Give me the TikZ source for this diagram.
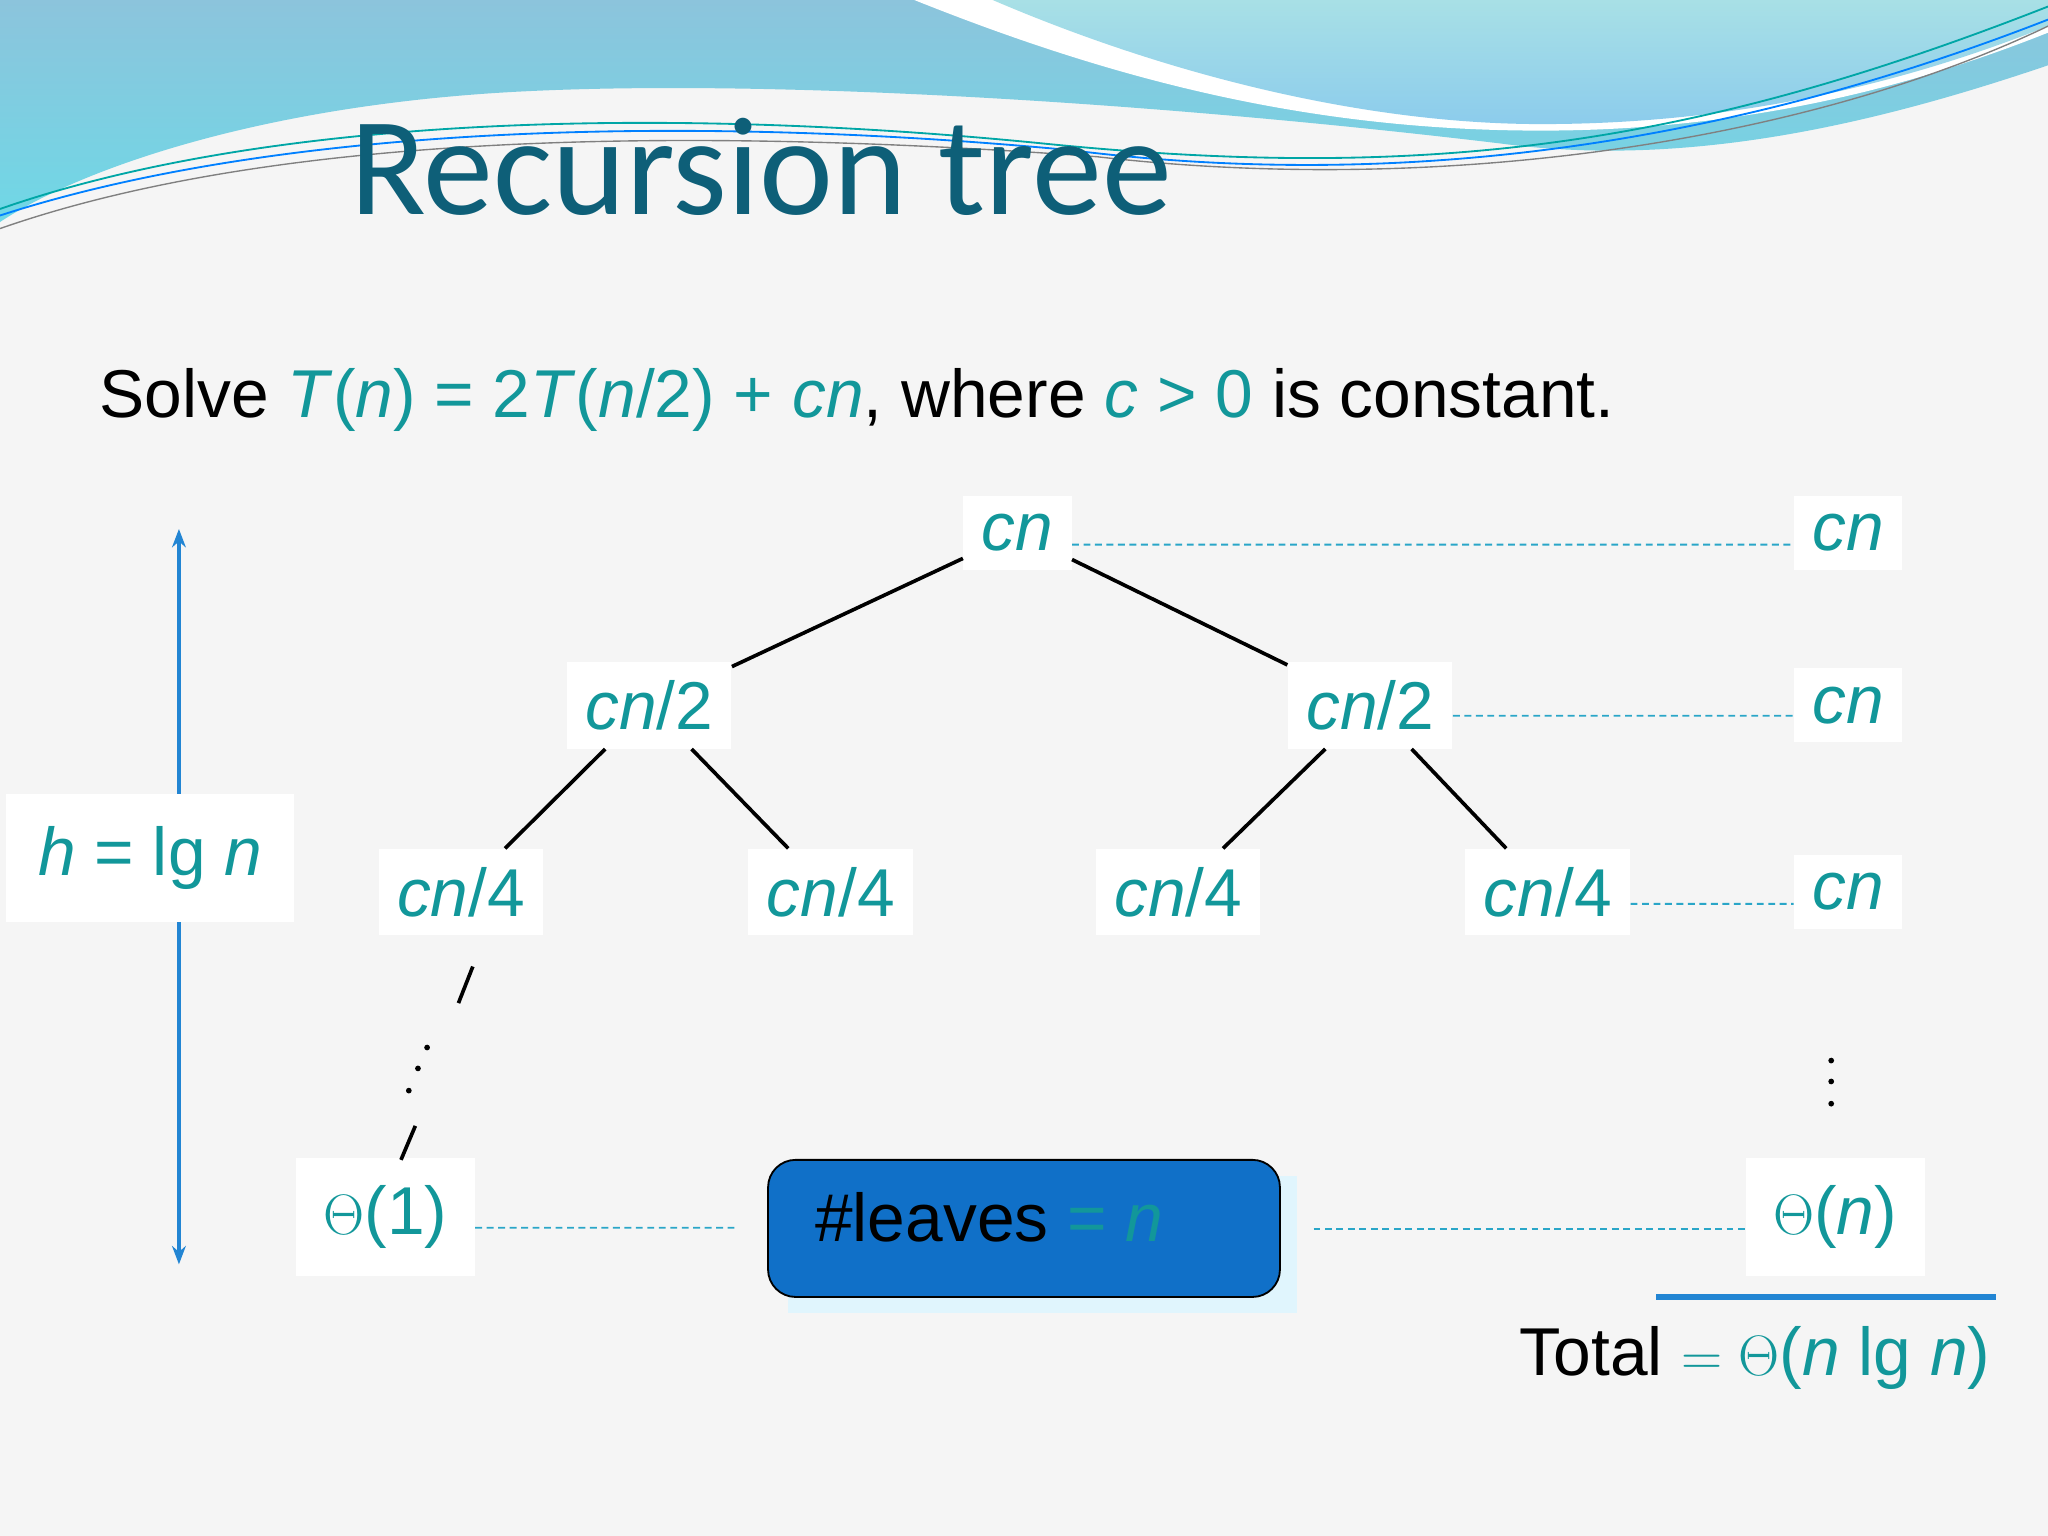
\documentclass[tikz,border=0pt]{standalone}
\usepackage{fontspec}
\setmainfont{Liberation Sans}
\newfontfamily\titlefont{Carlito}
\usetikzlibrary{arrows.meta}
\definecolor{tl}{HTML}{12979A}
\definecolor{ttl}{HTML}{0E5F78}
\definecolor{dsh}{HTML}{2AA6C8}
\definecolor{bx}{HTML}{1070C8}
\definecolor{bnA}{HTML}{8CC4DC}
\definecolor{bnB}{HTML}{6FD8E6}
\definecolor{bnC}{HTML}{A8E0E6}
\definecolor{bnD}{HTML}{8CCCEC}
\begin{document}
\begin{tikzpicture}[x=0.02cm,y=-0.02cm,
  lab/.style={fill=white,inner sep=8pt,text=tl,font=\fontsize{29.5}{34}\selectfont\itshape},
  edge/.style={black,line width=1.6pt},
  dl/.style={dsh,line width=0.8pt,dash pattern=on 3pt off 2pt}]
\useasboundingbox (0,0) rectangle (1568,1176);
\fill[black!4] (0,0) rectangle (1568,1176);
% banner
\shade[top color=bnA,bottom color=bnB] (0,0) -- (1568,0) -- (1568,50) .. controls (1450,90) and (1300,130) .. (1150,110) .. controls (900,80) and (600,60) .. (400,70) .. controls (200,80) and (60,130) .. (0,170) -- cycle;
\fill[white] (700,0) .. controls (850,60) and (1000,100) .. (1180,100) .. controls (1350,100) and (1480,60) .. (1568,25) -- (1568,0) -- cycle;
\shade[top color=bnC,bottom color=bnD] (760,0) .. controls (900,60) and (1050,95) .. (1180,95) .. controls (1350,95) and (1480,55) .. (1568,20) -- (1568,0) -- cycle;
\draw[teal!70!cyan,line width=0.8pt] (0,160) .. controls (200,90) and (500,80) .. (800,110) .. controls (1100,140) and (1300,110) .. (1568,5);
\draw[blue!50!cyan,line width=0.8pt] (0,165) .. controls (200,100) and (500,85) .. (820,115) .. controls (1100,150) and (1350,100) .. (1568,15);
\draw[gray,line width=0.6pt] (0,175) .. controls (200,105) and (500,95) .. (840,120) .. controls (1100,150) and (1380,110) .. (1568,20);
\node[anchor=west,text=ttl,font=\titlefont\fontsize{61}{66}\selectfont] (title) at (262,128) {Recursion tree};
\node[anchor=west,font=\fontsize{29.5}{34}\selectfont] (solve) at (70,306) {Solve \textcolor{tl}{\textit{T}(\textit{n}) = 2\textit{T}(\textit{n}/2) + \textit{cn}}, where \textcolor{tl}{\textit{c} > 0} is constant.};
% tree
\node[lab] (r) at (779,408) {cn};
\node[lab] (a) at (497,540) {cn\upshape/2};
\node[lab] (b) at (1049,540) {cn\upshape/2};
\node[lab] (a1) at (353,683) {cn\upshape/4};
\node[lab] (a2) at (636,683) {cn\upshape/4};
\node[lab] (b1) at (902,683) {cn\upshape/4};
\node[lab] (b2) at (1185,683) {cn\upshape/4};
\node[lab,inner sep=12pt] (leaf) at (295,932) {\upshape$\Theta$(1)};
\node[lab] (s1) at (1415,408) {cn};
\node[lab] (s2) at (1415,540) {cn};
\node[lab] (s3) at (1415,683) {cn};
\node[lab,inner sep=12pt] (s4) at (1405,932) {\upshape$\Theta$(\textit{n})};
\node[lab,inner sep=14pt] (h) at (115,657) {h \upshape= lg \itshape n};
\draw[edge] (r) -- (a); \draw[edge] (r) -- (b);
\draw[edge] (a) -- (a1); \draw[edge] (a) -- (a2);
\draw[edge] (b) -- (b1); \draw[edge] (b) -- (b2);
\coordinate (d1) at (362,740); \coordinate (d2) at (351,768);
\coordinate (d3) at (318,862); \coordinate (d4) at (307,888);
\draw[edge] (d1) -- (d2); \draw[edge] (d3) -- (d4);
\foreach \p in {(327,802),(320,818),(313,835)} \fill \p circle (2.2);
\foreach \p in {(1402,812),(1402,828),(1402,845)} \fill \p circle (2.2);
% height arrow
\coordinate (ht) at (137,405); \coordinate (hb) at (137,968);
\draw[dsh!80!blue,line width=1.5pt,-{Stealth[length=8pt]}] (h.north -| ht) -- (ht);
\draw[dsh!80!blue,line width=1.5pt,-{Stealth[length=8pt]}] (h.south -| hb) -- (hb);
% box
\fill[cyan!12] (603,900) rectangle (993,1005);
\node[draw=black,line width=0.8pt,fill=bx,rounded corners=12pt,minimum width=7.84cm,minimum height=2.1cm,inner sep=0pt] (box) at (784,940.5) {};
\node[anchor=west,font=\fontsize{29.5}{34}\selectfont] (lv) at (618,932) {\#leaves \textcolor{tl}{= \textit{n}}};
% dashed
\draw[dl] ([yshift=-0.18cm]r.east) -- (s1.west |- 0,417);
\draw[dl] ([yshift=-0.16cm]b.east) -- (s2.west |- 0,548);
\draw[dl] ([yshift=-0.18cm]b2.east) -- (s3.west |- 0,692);
\draw[dl] ([yshift=-0.16cm]leaf.east) -- ([xshift=-0.5cm]box.west |- 0,940);
\draw[dl] ([xshift=0.5cm]box.east |- 0,941) -- (s4.west |- 0,941);
% total
\coordinate (t1) at (1268,993); \coordinate (t2) at (1528,993);
\draw[dsh!80!blue,line width=2.5pt] (t1) -- (t2);
\node[anchor=east,font=\fontsize{29.5}{34}\selectfont] (tot) at (1530,1040) {Total \textcolor{tl}{$=\Theta$(\textit{n} lg \textit{n})}};
\end{tikzpicture}
\end{document}
